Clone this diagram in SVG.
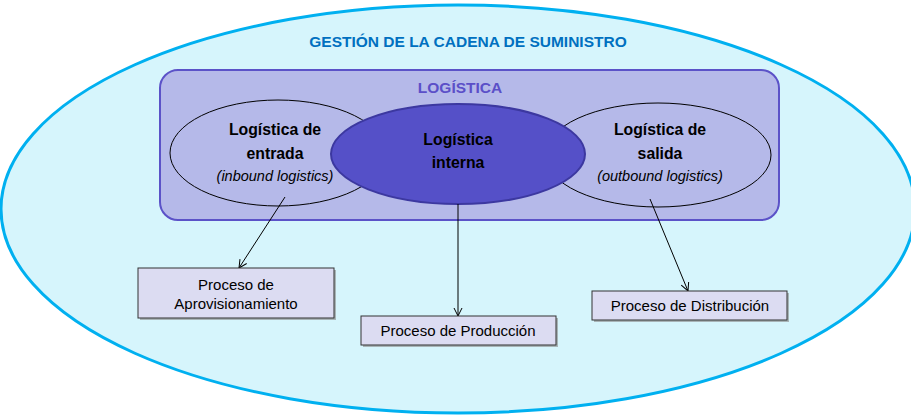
<svg xmlns="http://www.w3.org/2000/svg" width="911" height="416" viewBox="0 0 911 416">
<defs>
<style>
text{font-family:"Liberation Sans",Arial,sans-serif;text-anchor:middle}
.title{font-size:15.5px;font-weight:bold;fill:#0070c0}
.log{font-size:15.5px;font-weight:bold;fill:#5b4fc8}
.h{font-size:15.8px;font-weight:bold;fill:#000}
.it{font-size:14.5px;font-style:italic;fill:#000}
.bx{font-size:15px;fill:#000}
.box{fill:#dcdcf2;stroke:#333;stroke-width:1}
.shadow{fill:#888;opacity:0.6}
.conn{stroke:#000;stroke-width:1;fill:none;marker-end:url(#arr)}
</style>
<marker id="arr" viewBox="0 0 10 10" refX="9" refY="5" markerWidth="10" markerHeight="10" markerUnits="userSpaceOnUse" orient="auto">
<path d="M1,1 L9,5 L1,9" fill="none" stroke="#000" stroke-width="1"/>
</marker>
</defs>
<rect width="911" height="416" fill="#fff"/>
<g id="scm">
<ellipse cx="458" cy="209" rx="457" ry="204" fill="#d6f5fc" stroke="#00b0f0" stroke-width="3"/>
<text class="title" x="468" y="47">GESTIÓN DE LA CADENA DE SUMINISTRO</text>
</g>
<g id="logistica">
<rect x="160" y="70" width="619" height="150" rx="18" fill="#b5b9e9" stroke="#5b52c8" stroke-width="2"/>
<text class="log" x="460" y="93">LOGÍSTICA</text>
</g>
<g id="entrada">
<ellipse cx="278" cy="153" rx="108" ry="53" fill="#b5b9e9" stroke="#000" stroke-width="1"/>
<text class="h" x="275" y="135">Logística de</text>
<text class="h" x="275" y="159">entrada</text>
<text class="it" x="275" y="181">(inbound logistics)</text>
</g>
<g id="salida">
<ellipse cx="658" cy="155" rx="113" ry="52" fill="#b5b9e9" stroke="#000" stroke-width="1"/>
<text class="h" x="660" y="135">Logística de</text>
<text class="h" x="660" y="159">salida</text>
<text class="it" x="660" y="181">(outbound logistics)</text>
</g>
<g id="interna">
<ellipse cx="458" cy="154" rx="127" ry="50" fill="#5550c8" stroke="#3c38a0" stroke-width="2"/>
<text class="h" x="458" y="145">Logística</text>
<text class="h" x="458" y="168">interna</text>
</g>
<g id="connectors">
<line class="conn" x1="285" y1="197" x2="239" y2="268"/>
<line class="conn" x1="458" y1="204" x2="458" y2="316"/>
<line class="conn" x1="650" y1="199" x2="688" y2="291"/>
</g>
<g id="aprovisionamiento">
<rect class="shadow" x="140" y="270" width="196" height="50"/>
<rect class="box" x="138" y="268" width="196" height="50"/>
<text class="bx" x="236" y="290">Proceso de</text>
<text class="bx" x="236" y="309">Aprovisionamiento</text>
</g>
<g id="produccion">
<rect class="shadow" x="363" y="318" width="195" height="29"/>
<rect class="box" x="361" y="316" width="195" height="29"/>
<text class="bx" x="458" y="336">Proceso de Producción</text>
</g>
<g id="distribucion">
<rect class="shadow" x="594" y="293" width="195" height="29"/>
<rect class="box" x="592" y="291" width="195" height="29"/>
<text class="bx" x="690" y="311">Proceso de Distribución</text>
</g>
</svg>
